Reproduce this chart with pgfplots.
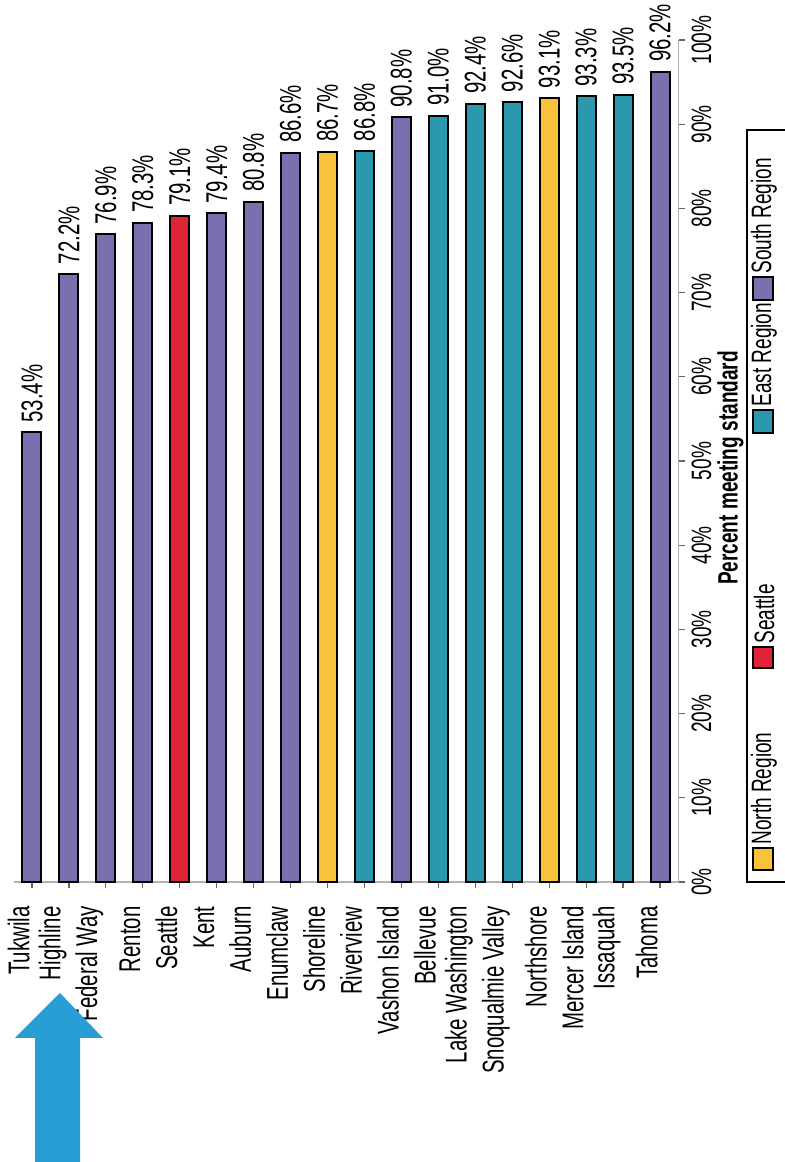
\documentclass[border=0pt]{standalone}
\usepackage{fontspec}
\setmainfont{Liberation Sans}[FakeStretch=0.68]
\usepackage{pgfplots}
\pgfplotsset{compat=1.18}
\definecolor{south}{HTML}{7A70B0}
\definecolor{east}{HTML}{2B98AD}
\definecolor{north}{HTML}{F8C23C}
\definecolor{seat}{HTML}{E02337}
\definecolor{arrowc}{HTML}{289ED4}
\newcommand{\fs}{\fontsize{15}{17}\selectfont}
\newcommand{\fsl}{\fontsize{14}{16}\selectfont}
\pgfplotsset{
  mybar/.style={fill=#1, draw=black, line width=1pt, bar shift=0pt},
}
\begin{document}
\begin{tikzpicture}[font=\fs]
\path[use as bounding box] (0,0) rectangle (392.5pt,581pt);
\begin{axis}[
  at={(6.75pt,140pt)}, anchor=south west,
  scale only axis, width=332.5pt, height=421pt,
  ymin=0, ymax=100, xmin=-0.5, xmax=17.5,
  clip=false,
  axis x line*=bottom, axis y line*=right,
  axis line style={black!30, line width=0.6pt},
  ybar, bar width=9.5pt,
  xtick={0,...,17},
  xticklabels={Tukwila, Highline, Federal Way, Renton, Seattle, Kent, Auburn, Enumclaw, Shoreline, Riverview, Vashon Island, Bellevue, Lake Washington, Snoqualmie Valley, Northshore, Mercer Island, Issaquah, Tahoma},
  xticklabel style={rotate=90, anchor=south east, inner xsep=9pt, inner ysep=1pt, font=\fs},
  ytick={0,10,...,100},
  yticklabel={\pgfmathprintnumber{\tick}\%},
  yticklabel style={rotate=90, anchor=north, font=\fsl},
  /pgf/number format/assume math mode=true,
  tick align=outside, major tick length=3pt,
  tick style={black!60, line width=0.6pt},
  nodes near coords={\pgfmathprintnumber[fixed, fixed zerofill, precision=1]{\pgfplotspointmeta}\%},
  every node near coord/.append style={rotate=90, anchor=west, inner xsep=4.5pt, inner ysep=1pt, font=\fs, black},
]
\addplot[mybar=north] coordinates {(8,86.7) (14,93.1)};
\addplot[mybar=seat] coordinates {(4,79.1)};
\addplot[mybar=east] coordinates {(9,86.8) (11,91.0) (12,92.4) (13,92.6) (15,93.3) (16,93.5)};
\addplot[mybar=south] coordinates {(0,53.4) (1,72.2) (2,76.9) (3,78.3) (5,79.4) (6,80.8) (7,86.6) (10,90.8) (17,96.2)};
\node[rotate=90, font=\bfseries\fsl] at ([xshift=26pt, yshift=-3.5pt]rel axis cs:1,0.5) {Percent meeting standard};
\end{axis}
% legend (rotated, as in the scan)
\draw[line width=0.8pt, fill=white] (373.5pt,140pt) rectangle (400pt,516pt);
\draw[line width=1pt, fill=north] (376.5pt,146pt) rectangle (386.5pt,157pt);
\node[rotate=90, anchor=west, inner sep=0pt, font=\fsl] at (382pt,158.5pt) {North Region};
\draw[line width=1pt, fill=seat] (376.5pt,247pt) rectangle (386.5pt,257.5pt);
\node[rotate=90, anchor=west, inner sep=0pt, font=\fsl] at (382pt,259pt) {Seattle};
\draw[line width=1pt, fill=east] (376.5pt,364.5pt) rectangle (386.5pt,376pt);
\node[rotate=90, anchor=west, inner sep=0pt, font=\fsl] at (382pt,377.5pt) {East Region};
\draw[line width=1pt, fill=south] (376.5pt,431pt) rectangle (386.5pt,442.5pt);
\node[rotate=90, anchor=west, inner sep=0pt, font=\fsl] at (382pt,444pt) {South Region};
% arrow
\fill[arrowc] (17.5pt,0pt) -- (17.5pt,62pt) -- (7.5pt,62pt) -- (30pt,84.5pt) -- (51.5pt,62pt) -- (40pt,62pt) -- (40pt,0pt) -- cycle;
\end{tikzpicture}
\end{document}
